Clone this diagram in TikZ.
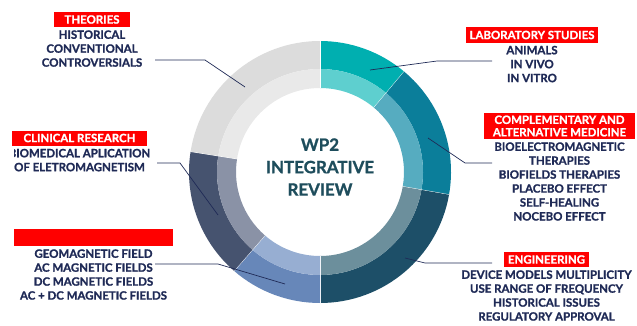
\documentclass[tikz,border=0pt]{standalone}
\usepackage{fontspec}
\setmainfont{Lato}[BoldFeatures={FakeBold=1.2}]
\usepackage{xcolor}
\usepackage{tikz}
\usetikzlibrary{calc,positioning}
\definecolor{navytext}{HTML}{1F2A56}
\definecolor{hubblue}{HTML}{1E4D5C}
\definecolor{labout}{HTML}{00AFB0}
\definecolor{labin}{HTML}{5ECFCF}
\definecolor{camout}{HTML}{0B7E9A}
\definecolor{camin}{HTML}{56ACC0}
\definecolor{engout}{HTML}{1D4F68}
\definecolor{engin}{HTML}{6C8F9C}
\definecolor{magout}{HTML}{6787B9}
\definecolor{magin}{HTML}{97AED2}
\definecolor{cliout}{HTML}{46536F}
\definecolor{cliin}{HTML}{8A92A6}
\definecolor{theout}{HTML}{DCDCDC}
\definecolor{thein}{HTML}{E9E9E9}
\tikzset{
  redbox/.style = {fill=red, text=white, font=\bfseries\fontsize{11.5}{12.5}\selectfont, inner sep=1pt, align=center, minimum height=15bp},
  itemlist/.style = {text=navytext, font=\bfseries\fontsize{11.5}{14}\selectfont, align=center, inner sep=0pt},
  hubtext/.style = {text=hubblue, font=\bfseries\fontsize{17}{22.5}\selectfont, align=center},
  leader/.style = {draw=navytext, line width=0.7pt}
}
\begin{document}
\begin{tikzpicture}[x=1bp,y=1bp]
  \useasboundingbox (0,0) rectangle (637,325);
  \coordinate (hub) at (320,153);
  \foreach \a/\b/\outc/\inc in {50/90/labout/labin, -10/50/camout/camin, -90/-10/engout/engin,
      229/270/magout/magin, 171/229/cliout/cliin, 90/171/theout/thein}{
    \fill[\outc] ($(hub)+(\a:131)$) arc[start angle=\a, end angle=\b, radius=131]
      -- ($(hub)+(\b:103)$) arc[start angle=\b, end angle=\a, radius=103] -- cycle;
    \fill[\inc] ($(hub)+(\a:103)$) arc[start angle=\a, end angle=\b, radius=103]
      -- ($(hub)+(\b:84)$) arc[start angle=\b, end angle=\a, radius=84] -- cycle;
    \draw[white, line width=0.8pt] ($(hub)+(\a:84)$) -- ($(hub)+(\a:131)$);
  }
  \node[hubtext] (wp2) at (320,158) {WP2\\INTEGRATIVE\\REVIEW};

  \node[redbox, minimum width=76bp] (theories) at (92,305.5) {THEORIES};
  \node[itemlist, below=3bp of theories] (theolist) {HISTORICAL\\CONVENTIONAL\\CONTROVERSIALS};

  \node[redbox, minimum width=132bp] (lab) at (532,290) {LABORATORY STUDIES};
  \node[itemlist, below=3bp of lab] (lablist) {ANIMALS\\IN VIVO\\IN VITRO};

  \node[redbox, minimum width=151bp, minimum height=26bp] (cam) at (559.5,199) {COMPLEMENTARY AND\\ALTERNATIVE MEDICINE};
  \node[itemlist, below=3bp of cam] (camlist) {BIOELECTROMAGNETIC\\THERAPIES\\BIOFIELDS THERAPIES\\PLACEBO EFFECT\\SELF-HEALING\\NOCEBO EFFECT};

  \node[redbox, minimum width=135bp] (clinical) at (79.5,187) {CLINICAL RESEARCH};
  \begin{scope}
    \clip (14,140) rectangle (170,180);
    \node[itemlist, below=3bp of clinical] (clilist) {BIOMEDICAL APLICATION\\OF ELETROMAGNETISM};
  \end{scope}

  \node[redbox, minimum width=159bp, minimum height=17bp] (fields) at (93.5,87.5) {};
  \node[itemlist, below=3bp of fields] (fieldlist) {GEOMAGNETIC FIELD\\AC MAGNETIC FIELDS\\DC MAGNETIC FIELDS\\AC + DC MAGNETIC FIELDS};

  \node[redbox, minimum width=85bp] (eng) at (546.5,65.5) {ENGINEERING};
  \node[itemlist, below=3bp of eng] (englist) {DEVICE MODELS MULTIPLICITY\\USE RANGE OF FREQUENCY\\HISTORICAL ISSUES\\REGULATORY APPROVAL};

  \coordinate (theoA) at (155,265);
  \coordinate (theoB) at (205,265);
  \coordinate (theoC) at (245,238);
  \coordinate (labA) at (492,264);
  \coordinate (labB) at (437,264);
  \coordinate (labC) at (370,255);
  \coordinate (camA) at (492,162);
  \coordinate (camB) at (465,162);
  \coordinate (camC) at (428,187);
  \coordinate (cliA) at (157,162);
  \coordinate (cliB) at (180,162);
  \coordinate (cliC) at (218,110);
  \coordinate (fldA) at (155,61);
  \coordinate (fldB) at (218,61);
  \coordinate (fldC) at (285,41);
  \coordinate (engA) at (492,62);
  \coordinate (engB) at (425,62);
  \coordinate (engC) at (405,67);

  \draw[leader] (theoA) -- (theoB) -- (theoC);
  \draw[leader] (labA) -- (labB) -- (labC);
  \draw[leader] (camA) -- (camB) -- (camC);
  \draw[leader] (cliA) -- (cliB) -- (cliC);
  \draw[leader] (fldA) -- (fldB) -- (fldC);
  \draw[leader] (engA) -- (engB) -- (engC);
\end{tikzpicture}
\end{document}
